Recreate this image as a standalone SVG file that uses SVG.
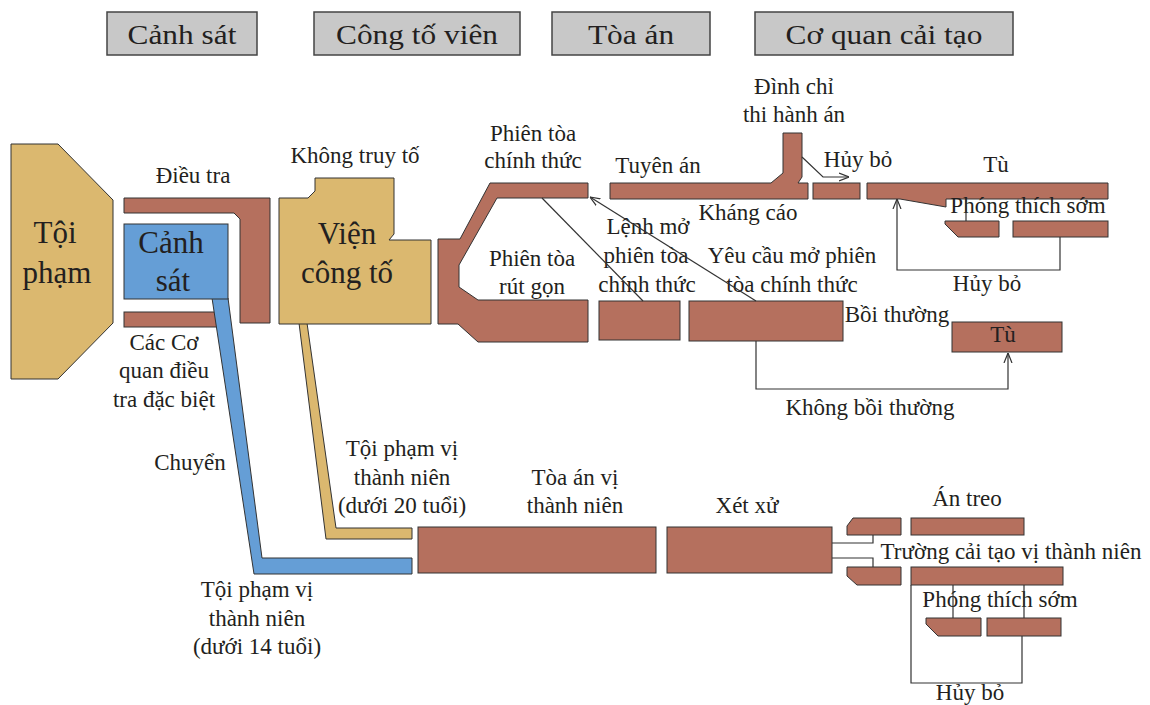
<svg xmlns="http://www.w3.org/2000/svg" width="1150" height="705" viewBox="0 0 1150 705">
<style>
text { font-family: "Liberation Serif", "Times New Roman", serif; fill: #231f20; text-anchor: middle; }
.lbl { font-size: 23px; }
.big { font-size: 31px; }
.hdr { font-size: 28px; transform-box: fill-box; transform-origin: center; transform: scaleX(1.12); }
.hbox { fill: #c8c8c8; stroke: #444; stroke-width: 1.5; }
.br { fill: #b5705e; stroke: #333; stroke-width: 1; }
.tan { fill: #dbb86f; stroke: #333; stroke-width: 1; }
.blu { fill: #659ed6; stroke: #333; stroke-width: 1; }
.ln { fill: none; stroke: #333; stroke-width: 1.2; }
</style>
<defs>
<marker id="arr" viewBox="0 0 10 10" refX="10" refY="5" markerWidth="10" markerHeight="10" markerUnits="userSpaceOnUse" orient="auto">
<path d="M0,1 L10,5 L0,9" fill="none" stroke="#333" stroke-width="1.2"/>
</marker>
</defs>
<rect width="1150" height="705" fill="#ffffff"/>

<g id="headers">
<g id="h-canhsat"><rect class="hbox" x="107" y="12" width="150" height="43"/><text class="hdr" x="182" y="44">Cảnh sát</text></g>
<g id="h-congtovien"><rect class="hbox" x="314" y="12" width="206" height="43"/><text class="hdr" x="417" y="44">Công tố viên</text></g>
<g id="h-toaan"><rect class="hbox" x="552" y="12" width="158" height="43"/><text class="hdr" x="631" y="44">Tòa án</text></g>
<g id="h-cqct"><rect class="hbox" x="755" y="12" width="258" height="43"/><text class="hdr" x="884" y="44">Cơ quan cải tạo</text></g>
</g>

<g id="toi-pham">
<polygon class="tan" points="11,144 58,144 113,200 113,323 58,379 11,379"/>
<text class="big" x="55" y="243">Tội</text>
<text class="big" x="57" y="283">phạm</text>
</g>

<g id="dieu-tra">
<polygon class="br" points="124,198 270,198 270,323 240,323 240,219 234,213 124,213"/>
<text class="lbl" x="193" y="183">Điều tra</text>
</g>

<g id="co-quan-dac-biet">
<rect class="br" x="124" y="312" width="105" height="15"/>
<text class="lbl" x="164" y="350">Các Cơ</text>
<text class="lbl" x="164" y="378">quan điều</text>
<text class="lbl" x="164" y="407">tra đặc biệt</text>
</g>

<g id="chuyen">
<polygon class="blu" points="212,298 228,298 262,558 412,558 412,574 254,574"/>
<text class="lbl" x="190" y="470">Chuyển</text>
<text class="lbl" x="257" y="597">Tội phạm vị</text>
<text class="lbl" x="257" y="626">thành niên</text>
<text class="lbl" x="257" y="654">(dưới 14 tuổi)</text>
</g>

<g id="canh-sat">
<rect class="blu" x="124" y="224" width="104" height="75"/>
<text class="big" x="171" y="253">Cảnh</text>
<text class="big" x="173" y="291">sát</text>
</g>

<g id="vtn20">
<polygon class="tan" points="299,323 307,323 336,528 412,528 412,539 326,539"/>
<text class="lbl" x="402" y="456">Tội phạm vị</text>
<text class="lbl" x="402" y="485">thành niên</text>
<text class="lbl" x="402" y="513">(dưới 20 tuổi)</text>
</g>

<g id="vien-cong-to">
<polygon class="tan" points="315,178 394,178 394,234 389,240 431,240 431,324 279,324 279,198 308,198 315,191"/>
<text class="big" x="347" y="244">Viện</text>
<text class="big" x="347" y="283">công tố</text>
<text class="lbl" x="355" y="163">Không truy tố</text>
</g>

<g id="phien-toa">
<polygon class="br" points="490,183 588,183 588,198 497,198 459,265 459,287 478,300 588,300 588,342 478,342 458,324 438,324 438,239 460,239"/>
<text class="lbl" x="533" y="141">Phiên tòa</text>
<text class="lbl" x="533" y="168">chính thức</text>
<text class="lbl" x="532" y="266">Phiên tòa</text>
<text class="lbl" x="532" y="294">rút gọn</text>
</g>

<g id="lenh-mo">
<rect class="br" x="599" y="301" width="81" height="39"/>
<text class="lbl" x="648" y="234">Lệnh mở</text>
<text class="lbl" x="646" y="263">phiên tòa</text>
<text class="lbl" x="647" y="292">chính thức</text>
</g>

<g id="yeu-cau">
<rect class="br" x="689" y="301" width="154" height="40"/>
<text class="lbl" x="792" y="263">Yêu cầu mở phiên</text>
<text class="lbl" x="792" y="292">tòa chính thức</text>
</g>

<g id="tuyen-an">
<polygon class="br" points="610,183 771,183 783,173 783,133 802,133 802,177 798,183 808,183 808,199 610,199"/>
<text class="lbl" x="658" y="173">Tuyên án</text>
<text class="lbl" x="748" y="220">Kháng cáo</text>
<text class="lbl" x="794" y="94">Đình chỉ</text>
<text class="lbl" x="794" y="122">thi hành án</text>
</g>

<g id="huy-bo-1">
<rect class="br" x="813" y="183" width="47" height="16"/>
<text class="lbl" x="858" y="167">Hủy bỏ</text>
</g>

<g id="tu-1">
<polygon class="br" points="867,183 1108,183 1108,199 946,199 946,207 900,199 867,199"/>
<text class="lbl" x="996" y="172">Tù</text>
</g>

<g id="phong-thich-1">
<polygon class="br" points="945,221 999,221 999,237 958,237 945,224"/>
<rect class="br" x="1013" y="221" width="95" height="16"/>
<text class="lbl" x="1028" y="213">Phóng thích sớm</text>
<text class="lbl" x="987" y="291">Hủy bỏ</text>
</g>

<g id="tu-2">
<rect class="br" x="952" y="322" width="110" height="30"/>
<text class="lbl" x="1003" y="342">Tù</text>
<text class="lbl" x="897" y="322">Bồi thường</text>
<text class="lbl" x="870" y="415">Không bồi thường</text>
</g>

<g id="toa-an-vtn">
<rect class="br" x="418" y="527" width="238" height="46"/>
<text class="lbl" x="575" y="485">Tòa án vị</text>
<text class="lbl" x="575" y="513">thành niên</text>
</g>

<g id="xet-xu">
<rect class="br" x="667" y="527" width="165" height="46"/>
<text class="lbl" x="747" y="513">Xét xử</text>
</g>

<g id="an-treo">
<polygon class="br" points="853,518 901,518 901,535 847,535 847,526"/>
<rect class="br" x="911" y="518" width="113" height="17"/>
<text class="lbl" x="967" y="506">Án treo</text>
</g>

<g id="truong-cai-tao">
<polygon class="br" points="847,567 901,567 901,585 857,585 847,576"/>
<rect class="br" x="911" y="567" width="152" height="18"/>
<text class="lbl" x="1011" y="559">Trường cải tạo vị thành niên</text>
</g>

<g id="phong-thich-2">
<polygon class="br" points="926,618 981,618 981,636 938,636 926,624"/>
<rect class="br" x="987" y="618" width="74" height="18"/>
<text class="lbl" x="1000" y="607">Phóng thích sớm</text>
<text class="lbl" x="970" y="700">Hủy bỏ</text>
</g>

<g id="connectors">
<line class="ln" x1="542" y1="198" x2="643" y2="301"/>
<line class="ln" x1="756" y1="301" x2="590" y2="197" marker-end="url(#arr)"/>
<polyline class="ln" points="802,157 823,177 849,177" marker-end="url(#arr)"/>
<polyline class="ln" points="1060,237 1060,270 897,270 897,199" marker-end="url(#arr)"/>
<line class="ln" x1="966" y1="199" x2="966" y2="221"/>
<polyline class="ln" points="756,341 756,389 1008,389 1008,353" marker-end="url(#arr)"/>
<polyline class="ln" points="832,543 873,543 873,535"/>
<polyline class="ln" points="832,558 873,558 873,567"/>
<line class="ln" x1="953" y1="585" x2="953" y2="618"/>
<line class="ln" x1="1024" y1="585" x2="1024" y2="618"/>
<polyline class="ln" points="911,585 911,683 1022,683 1022,636"/>
</g>
</svg>
